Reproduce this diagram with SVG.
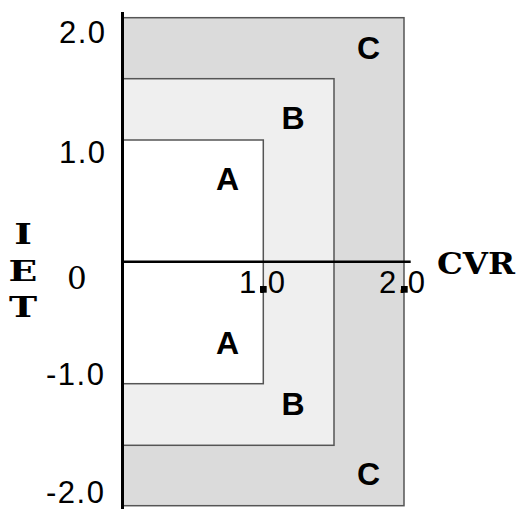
<svg xmlns="http://www.w3.org/2000/svg" width="521" height="509" viewBox="0 0 521 509">
  <style>
    .zone { stroke: #555555; stroke-width: 1.5; }
    .axis { stroke: #000000; fill: none; }
    .num { font-family: "Liberation Sans", Arial, sans-serif; font-size: 31px; fill: #000; letter-spacing: 1.5px; }
    .zl { font-family: "Liberation Sans", Arial, sans-serif; font-size: 32px; font-weight: bold; fill: #000; text-anchor: middle; }
    .slab { font-family: "DejaVu Serif", "Liberation Serif", serif; font-weight: bold; fill: #000; }
    .serif { font-family: "DejaVu Serif", "Liberation Serif", serif; fill: #000; }
    .vert { writing-mode: vertical-rl; text-orientation: upright; letter-spacing: 4px; }
  </style>
  <rect width="521" height="509" fill="#ffffff"/>
  <g id="zoneC">
    <rect class="zone" x="122" y="17.7" width="282" height="488" fill="#dbdbdb"/>
    <text class="zl" x="368.5" y="59">C</text>
    <text class="zl" x="368.5" y="485">C</text>
  </g>
  <g id="zoneB">
    <rect class="zone" x="122" y="78.7" width="212" height="366.6" fill="#efefef"/>
    <text class="zl" x="293" y="129">B</text>
    <text class="zl" x="293" y="415">B</text>
  </g>
  <g id="zoneA">
    <rect class="zone" x="122" y="140" width="141.3" height="243.7" fill="#ffffff"/>
    <text class="zl" x="227.5" y="190">A</text>
    <text class="zl" x="227.5" y="354">A</text>
  </g>
  <g id="axes">
    <line class="axis" x1="122.5" y1="12" x2="122.5" y2="509" stroke-width="3"/>
    <line class="axis" x1="122" y1="261.7" x2="410.7" y2="261.7" stroke-width="2.5"/>
  </g>
  <g id="yLabels">
    <text class="num" x="59" y="43.3">2.0</text>
    <text class="num" x="59" y="163.3">1.0</text>
    <text class="serif" x="67" y="289" font-size="31">0</text>
    <text class="num" x="46" y="385">-1.0</text>
    <text class="num" x="46" y="503">-2.0</text>
    <text class="slab vert" font-size="27" transform="translate(23,0) scale(1.4,1)" x="0" y="219">IET</text>
  </g>
  <g id="xLabels">
    <text class="num" x="239" y="293.3">1.0</text>
    <rect x="260" y="286" width="6.7" height="6.7" fill="#000"/>
    <text class="num" x="379" y="293.3">2.0</text>
    <rect x="401" y="286" width="6.7" height="6.7" fill="#000"/>
    <text class="slab" x="437" y="274" font-size="29" textLength="78" lengthAdjust="spacingAndGlyphs">CVR</text>
  </g>
</svg>
